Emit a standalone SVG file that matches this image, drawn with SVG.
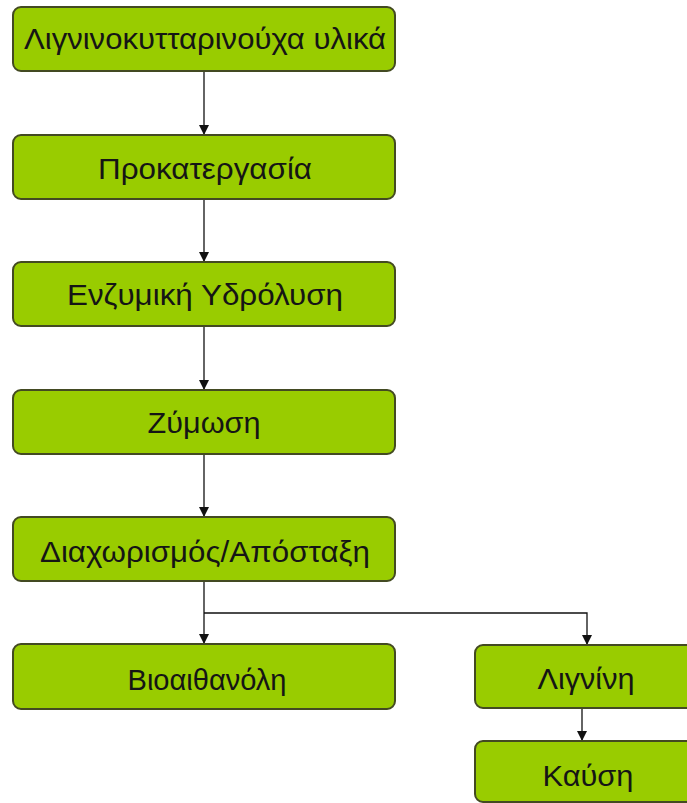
<svg xmlns="http://www.w3.org/2000/svg" width="687" height="803" viewBox="0 0 687 803">
<defs>
<marker id="ah" viewBox="0 0 10 10" refX="10" refY="5" markerWidth="10" markerHeight="10" markerUnits="userSpaceOnUse" orient="auto">
<path d="M0,0 L10,5 L0,10 z" fill="#111"/>
</marker>
<style>
.box{fill:#99cc00;stroke:#434a22;stroke-width:2}
.t{font-family:"Liberation Sans",Arial,sans-serif;font-size:29px;fill:#151515;text-anchor:middle;dominant-baseline:central}
.c{stroke:#111;stroke-width:1.3;fill:none;marker-end:url(#ah)}
</style>
</defs>
<rect width="687" height="803" fill="#fff"/>
<g id="connectors">
<path class="c" d="M204,71 V135"/>
<path class="c" d="M204,199 V262"/>
<path class="c" d="M204,326 V390"/>
<path class="c" d="M204,454 V517"/>
<path class="c" d="M204,581 V644"/>
<path class="c" d="M204,613 H587 V645"/>
<path class="c" d="M582,708 V741"/>
</g>
<g id="n1"><rect class="box" x="13" y="7" width="382" height="64" rx="8"/><text class="t" x="205" y="39" textLength="362" lengthAdjust="spacingAndGlyphs">Λιγνινοκυτταρινούχα υλικά</text></g>
<g id="n2"><rect class="box" x="13" y="135" width="382" height="64" rx="8"/><text class="t" x="205" y="169" textLength="214" lengthAdjust="spacingAndGlyphs">Προκατεργασία</text></g>
<g id="n3"><rect class="box" x="13" y="262" width="382" height="64" rx="8"/><text class="t" x="205" y="295" textLength="276" lengthAdjust="spacingAndGlyphs">Ενζυμική Υδρόλυση</text></g>
<g id="n4"><rect class="box" x="13" y="390" width="382" height="64" rx="8"/><text class="t" x="204" y="423" textLength="113" lengthAdjust="spacingAndGlyphs">Ζύμωση</text></g>
<g id="n5"><rect class="box" x="13" y="517" width="382" height="64" rx="8"/><text class="t" x="205" y="552" textLength="330" lengthAdjust="spacingAndGlyphs">Διαχωρισμός/Απόσταξη</text></g>
<g id="n6"><rect class="box" x="13" y="644" width="382" height="65" rx="8"/><text class="t" x="207" y="680" textLength="159" lengthAdjust="spacingAndGlyphs">Βιοαιθανόλη</text></g>
<g id="n7"><rect class="box" x="475" y="645" width="230" height="63" rx="8"/><text class="t" x="586" y="679" textLength="97" lengthAdjust="spacingAndGlyphs">Λιγνίνη</text></g>
<g id="n8"><rect class="box" x="475" y="741" width="230" height="61" rx="8"/><text class="t" x="588" y="776" textLength="91" lengthAdjust="spacingAndGlyphs">Καύση</text></g>
</svg>
